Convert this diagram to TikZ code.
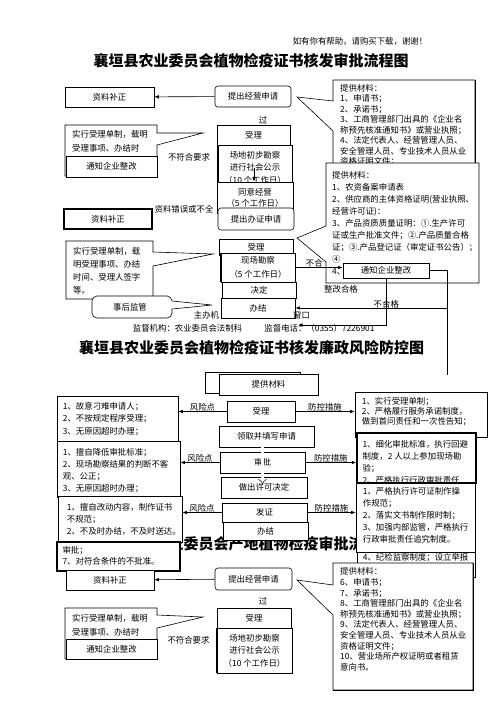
\documentclass[tikz,border=0pt]{standalone}
\usepackage{fontspec}
\setmainfont{Noto Sans CJK SC}
\usetikzlibrary{arrows.meta}

\newcommand{\fs}{\fontsize{8.4}{10.5}\selectfont}
\newcommand{\fsb}[1]{\fontsize{8.4}{#1}\selectfont}

\tikzset{
  box/.style={draw, fill=white, line width=0.6pt, inner sep=0pt, font=\fs},
  rbox/.style={box, rounded corners=3pt},
  txt/.style={inner sep=0pt, font=\fs},
  para/.style={txt, align=left, anchor=north west},
  callout/.style={draw, fill=white, line width=0.6pt},
  arr/.style={-{Latex[length=4.5pt,width=3.5pt]}, line width=0.6pt},
  hollow/.style={double=white, double distance=2.4pt, line width=0.5pt, -{Implies}},
  ttl/.style={inner sep=0pt, font=\fontsize{15}{15}\selectfont\bfseries},
}

\begin{document}
\begin{tikzpicture}[x=1pt,y=-1pt]
\useasboundingbox (0,0) rectangle (496,702);

\node[txt] (hint) at (360,41) {如有你有帮助，请购买下载，谢谢！};
\node[ttl] (title1) at (251,61) {襄垣县农业委员会植物检疫证书核发审批流程图};

% first chart
\node[box, minimum width=89pt, minimum height=20pt] (fix1) at (109.5,97) {资料补正};
\node[rbox, minimum width=76pt, minimum height=21pt] (apply1) at (253,96.5) {提出经营申请};
\draw[arr] (apply1) -- (fix1);
\node[txt] (pass1) at (263,120) {过};

\draw[callout] (333,80) -- (475,80) -- (475,172) -- (333,172) -- (333,131) -- (297,97) -- (333,101) -- cycle;
\draw[line width=1.2pt] (475.5,80) -- (475.5,172);
\node[para] (mat1) at (340,84) {提供材料：\\1、申请书；\\2、承诺书；\\3、工商管理部门出具的《企业名\\称预先核准通知书》或营业执照；\\4、法定代表人、经营管理人员、\\安全管理人员、专业技术人员从业\\资格证明文件；};

\draw[callout] (65,125) -- (157,125) -- (157,133) -- (203,133) -- (157,145) -- (157,176) -- (65,176) -- cycle;
\node[para, font=\fsb{14}] (rule1) at (72,130) {实行受理单制，载明\\受理事项、办结时};
\node[box, minimum width=91pt, minimum height=21pt] (notify1) at (111.5,166.5) {通知企业整改};
\node[txt] (nok1) at (189,157) {不符合要求};

\node[box, minimum width=73pt, minimum height=20pt] (accept1) at (253.5,135) {受理};
\node[box, align=center, font=\fsb{12.5}, minimum width=74pt, minimum height=45pt] (survey1) at (255,167.5) {场地初步勘察\\进行社会公示\\（10 个工作日）};
\draw[line width=1.3pt] (survey1.north west) -- (survey1.south west);
\node[box, align=center, font=\fsb{11}, minimum width=76pt, minimum height=31pt] (agree1) at (255,197.5) {同意经营\\（5 个工作日）};
\draw[arr] ([xshift=-1pt]survey1.center) -- ([xshift=-1pt]agree1.north);

\node[txt] (err1) at (184,209) {资料错误或不全};
\node[box, line width=1.5pt, minimum width=88pt, minimum height=20pt] (fix2) at (108,219) {资料补正};
\node[rbox, minimum width=76pt, minimum height=22pt] (cert1) at (256,219) {提出办证申请};

\draw[callout] (66,241) -- (153,241) -- (153,252) -- (213,254) -- (153,266) -- (153,299) -- (66,299) -- cycle;
\node[para, font=\fsb{13}] (rule2) at (73,247) {实行受理单制，载\\明受理事项、办结\\时间、受理人签字\\等。};
\node[box, minimum width=74pt, minimum height=16pt] (accept2) at (256,247) {受理};

\draw[callout] (326,163) -- (479,163) -- (479,283) -- (326,283) -- (326,262) -- (297,238) -- (326,226) -- cycle;
\node[para, font=\fsb{12}] (mat2) at (332,171) {提供材料：\\1、农资备案申请表\\2、供应商的主体资格证明(营业执照、\\经营许可证)：\\3、产品资质质量证明：①.生产许可\\证或生产批准文件；②.产品质量合格\\证；③.产品登记证（审定证书公告）；\\④\\4、};

\node[box, align=center, font=\fsb{14}, minimum width=74pt, minimum height=29pt] (site2) at (258,267.5) {现场勘察\\（5 个工作日）};
\draw[line width=1.3pt] (site2.north west) -- (site2.south west);
\node[box, minimum width=86pt, minimum height=15pt] (notify2) at (386,270.5) {通知企业整改};
\draw[arr] (site2.east) -- (site2.east -| notify2.west) node[pos=0.4, above=0pt, txt] {不合};
\node[txt] (ok2) at (341,289) {整改合格};
\node[box, minimum width=74pt, minimum height=16pt] (decide2) at (259,290) {决定};
\node[box, minimum width=74pt, minimum height=20pt] (done2) at (258,308) {办结};

\draw[callout] (172,301) [rounded corners=5pt] -- (172,296) -- (92,296) -- (92,318) -- (172,318) [sharp corners] -- (172,309) -- (212,305) -- cycle;
\node[txt] (watch2) at (130,307) {事后监管};
\node[txt] (host2a) at (206.5,315) {主办机};
\node[txt] (host2b) at (301.5,315) {窗口};
\node[txt] (sup2a) at (187.5,328) {监督机构：农业委员会法制科};
\node[txt] (sup2b) at (319.5,328) {监督电话：（0355）7226901};

\coordinate (rt1) at (447,270.5);
\coordinate (rt2) at (447,375);
\coordinate (lf1) at (298,325);
\draw[line width=0.6pt] (notify2.east) -- (rt1) -- (rt2);
\draw[arr] (rt1 |- done2.east) -- (done2.east) node[pos=0.4, above=0pt, txt] {不合格};
\draw[arr] (notify2.south) |- (lf1);

\node[ttl] (title2) at (251.5,348) {襄垣县农业委员会植物检疫证书核发廉政风险防控图};
\node[ttl] (title3) at (251,544) {襄垣县农业委员会产地植物检疫审批流程图};

% risk chart
\node[box, minimum width=95pt, minimum height=21pt] (give0) at (252.5,382.5) {};
\node[box, minimum width=99pt, minimum height=21pt] (give) at (268.5,384.5) {提供材料};
\node[box, minimum width=68pt, minimum height=21pt] (acc3) at (261,411.5) {受理};
\node[box, minimum width=121pt, minimum height=45pt] (risk1) at (117.5,418.5) {};
\node[para, font=\fsb{12.5}] (risk1t) at ([shift={(6,6)}]risk1.north west) {1、故意刁难申请人；\\2、不按规定程序受理；\\3、无原因超时办理；};
\draw[arr] (acc3.west) -- (acc3.west -| risk1.east) node[midway, above=0pt, txt] {风险点};
\node[box, minimum width=132pt, minimum height=45pt] (ctrl1) at (421,414.5) {};
\node[para, font=\fsb{10}] (ctrl1t) at ([shift={(7,5)}]ctrl1.north west) {1、实行受理单制；\\2、严格履行服务承诺制度，\\做到首问责任和一次性告知；};
\draw[arr] (acc3.east) -- (acc3.east -| ctrl1.west) node[midway, above=0pt, txt] {防控措施};

\node[box, minimum width=95pt, minimum height=21pt] (form) at (266.5,436.5) {领取并填写申请};
\node[box, line width=1.3pt, minimum width=119pt, minimum height=50pt] (ctrl2) at (416.5,458) {};
\node[para, font=\fsb{12}] (ctrl2t) at ([shift={(6,8)}]ctrl2.north west) {1、细化审批标准，执行回避\\制度，2 人以上参加现场勘\\验；\\2、严格执行行政审批责任};
\node[box, minimum width=85pt, minimum height=21pt] (appr) at (262.5,462.5) {审批};
\node[box, minimum width=123pt, minimum height=56pt] (risk2) at (118.5,469) {};
\node[para, font=\fsb{12.3}] (risk2t) at ([shift={(6,7)}]risk2.north west) {1、擅自降低审批标准；\\2、现场勘察结果的判断不客\\观、公正；\\3、无原因超时办理；};
\draw[arr] (appr.west) -- (appr.west -| risk2.east) node[midway, above=0pt, txt] {风险点};
\draw[arr] (appr.east) -- (appr.east -| ctrl2.west) node[midway, above=0pt, txt] {防控措施};

\node[box, minimum width=86pt, minimum height=21pt] (permit) at (264,487.5) {做出许可决定};
\draw[hollow] (appr.center |- form.south) -- ([yshift=3pt]appr.center |- permit.center);

\node[box, minimum width=85pt, minimum height=19pt] (issue) at (264.5,512.5) {发证};
\node[box, minimum width=85pt, minimum height=18pt] (done3) at (265.5,531) {办结};
\node[box, minimum width=124pt, minimum height=46pt] (risk3) at (120,519) {};
\node[para, font=\fsb{12}] (risk3t) at ([shift={(9,7)}]risk3.north west) {1、擅自改动内容，制作证书\\不规范；\\2、不及时办结，不及时送达。};
\draw[arr] (issue.west) -- (issue.west -| risk3.east) node[midway, above=0pt, txt] {风险点};

\node[box, minimum width=118pt, minimum height=31pt] (ctrl4) at (416,561.5) {};
\node[para] (ctrl4t) at ([shift={(6,7)}]ctrl4.north west) {4、纪检监察制度；设立举报};
\node[box, minimum width=119pt, minimum height=69pt] (ctrl3) at (415.5,517.5) {};
\node[para, font=\fsb{12}] (ctrl3t) at ([shift={(7,5)}]ctrl3.north west) {1、严格执行许可证制作操\\作规范；\\2、落实文书制作限时制；\\3、加强内部监管，严格执行\\行政审批责任追究制度。};
\draw[arr] (issue.east) -- (issue.east -| ctrl3.west) node[midway, above=0pt, txt] {防控措施};

\node[box, line width=1.3pt, minimum width=123pt, minimum height=29pt] (risk4) at (118.5,556.5) {};
\node[para, font=\fsb{11}] (risk4t) at ([shift={(6,5)}]risk4.north west) {审批；\\7、对符合条件的不批准。};

% last chart
\node[box, minimum width=88pt, minimum height=20pt] (fix3) at (110,580) {资料补正};
\node[rbox, minimum width=77pt, minimum height=22pt] (apply3) at (253.5,579) {提出经营申请};
\draw[arr] (apply3) -- (fix3);
\node[txt] (pass3) at (263,601) {过};

\draw[callout] (65,608) -- (157,608) -- (157,615) -- (203,617) -- (157,628) -- (157,659) -- (65,659) -- cycle;
\node[para, font=\fsb{14}] (rule3) at (72,613.7) {实行受理单制，载明\\受理事项、办结时};
\node[box, minimum width=91pt, minimum height=20pt] (notify3) at (111.5,649) {通知企业整改};
\node[txt] (nok3) at (188.5,640) {不符合要求};

\node[box, minimum width=74pt, minimum height=20pt] (accept3) at (254,618) {受理};
\node[box, align=center, font=\fsb{12.5}, minimum width=75pt, minimum height=45pt] (survey3) at (254.5,650.5) {场地初步勘察\\进行社会公示\\（10 个工作日）};
\draw[line width=1.3pt] (survey3.north west) -- (survey3.south west);

\draw[callout] (333,563) -- (473,563) -- (473,690) -- (333,690) -- (333,615) -- (297,580) -- (333,585) -- cycle;
\draw[line width=1.2pt] (333,690.5) -- (473.5,690.5) -- (473.5,563);
\node[para, font=\fsb{10.6}] (mat3) at (340,567.7) {提供材料：\\6、申请书；\\7、承诺书；\\8、工商管理部门出具的《企业名\\称预先核准通知书》或营业执照；\\9、法定代表人、经营管理人员、\\安全管理人员、专业技术人员从业\\资格证明文件；\\10、营业场所产权证明或者租赁\\意向书。};
\end{tikzpicture}
\end{document}
